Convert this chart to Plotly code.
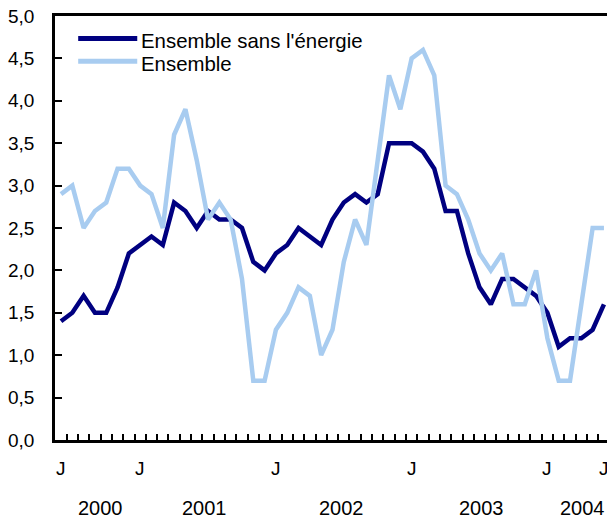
import plotly.graph_objects as go

# Monthly data, June 2000 to June 2004
month_index = list(range(49))

ensemble_sans_energie = [
    1.4, 1.5, 1.7, 1.5, 1.5, 1.8, 2.2,             # 2000 (Jun-Dec)
    2.3, 2.4, 2.3, 2.8, 2.7, 2.5, 2.7, 2.6, 2.6, 2.5, 2.1, 2.0,   # 2001
    2.2, 2.3, 2.5, 2.4, 2.3, 2.6, 2.8, 2.9, 2.8, 2.9, 3.5, 3.5,   # 2002
    3.5, 3.4, 3.2, 2.7, 2.7, 2.2, 1.8, 1.6, 1.9, 1.9, 1.8, 1.7,   # 2003
    1.5, 1.1, 1.2, 1.2, 1.3, 1.6,                   # 2004 (Jan-Jun)
]

ensemble = [
    2.9, 3.0, 2.5, 2.7, 2.8, 3.2, 3.2,
    3.0, 2.9, 2.5, 3.6, 3.9, 3.3, 2.6, 2.8, 2.6, 1.9, 0.7, 0.7,
    1.3, 1.5, 1.8, 1.7, 1.0, 1.3, 2.1, 2.6, 2.3, 3.3, 4.3, 3.9,
    4.5, 4.6, 4.3, 3.0, 2.9, 2.6, 2.2, 2.0, 2.2, 1.6, 1.6, 2.0,
    1.2, 0.7, 0.7, 1.6, 2.5, 2.5,
]

series_names = ["Ensemble sans l'énergie", "Ensemble"]
series_colors = ["#000080", "#A8CCF0"]

month_tick_index = [0, 7, 19, 31, 43, 48]
month_tick_text = ["J", "J", "J", "J", "J", "J"]

year_labels = ["2000", "2001", "2002", "2003", "2004"]
year_label_index = [3.5, 12.7, 24.8, 37.2, 46.1]

y_tick_values = [0, 0.5, 1, 1.5, 2, 2.5, 3, 3.5, 4, 4.5, 5]

FONT = "Liberation Sans, Arial, Helvetica, sans-serif"

fig = go.Figure()
for name, vals, col in zip(series_names, [ensemble_sans_energie, ensemble], series_colors):
    fig.add_trace(go.Scatter(
        x=month_index, y=vals, mode="lines", name=name,
        line=dict(color=col, width=4.5), showlegend=False,
    ))

# Month letters under the axis
for lbl, pos in zip(month_tick_text, month_tick_index):
    fig.add_annotation(
        x=pos, y=0, xref="x", yref="paper", yshift=-41,
        text=lbl, showarrow=False, font=dict(family=FONT, size=19, color="black"),
    )

# Year labels under the month letters
for lbl, pos in zip(year_labels, year_label_index):
    fig.add_annotation(
        x=pos, y=0, xref="x", yref="paper", yshift=-81,
        text=lbl, showarrow=False, font=dict(family=FONT, size=20, color="black"),
    )

# Custom legend (key lines + labels)
legend_rows_y = [0.947, 0.893]
for name, col, ly in zip(series_names, series_colors, legend_rows_y):
    fig.add_shape(type="line", xref="paper", yref="paper",
                  x0=0.042, x1=0.149, y0=ly, y1=ly,
                  line=dict(color=col, width=5))
    fig.add_annotation(x=0.153, y=ly - 0.006, xref="paper", yref="paper",
                       xanchor="left", yanchor="middle", showarrow=False,
                       text=name, font=dict(family=FONT, size=20.4, color="black"))

fig.update_layout(
    width=607, height=518,
    margin=dict(l=55, r=0, t=16, b=78),
    paper_bgcolor="white", plot_bgcolor="white",
    separators=",.",
    font=dict(family=FONT, size=19, color="black"),
    showlegend=False,
    xaxis=dict(
        range=[-0.53, 48.27], automargin=False,
        showgrid=False, zeroline=False,
        showline=True, linecolor="black", linewidth=3, mirror=True,
        showticklabels=False, ticks="",
        minor=dict(
            tickmode="array",
            tickvals=[i + 0.5 for i in month_index[:-1]],
            ticks="inside", ticklen=6, tickwidth=1.5, tickcolor="black",
        ),
    ),
    yaxis=dict(
        range=[0, 5], automargin=False,
        showgrid=False, zeroline=False,
        showline=True, linecolor="black", linewidth=2.5,
        tickmode="array", tickvals=y_tick_values, tickformat=".1f",
        ticks="inside", ticklen=7, tickwidth=1.5, tickcolor="black",
        ticklabelstandoff=14,
    ),
)

fig.write_html("out.html", config={"displayModeBar": False})

# Remove the browser's default page margin so the figure fills the window
with open("out.html", encoding="utf-8") as f:
    html = f.read()
html = html.replace("<head>", "<head><style>html,body{margin:0;padding:0;overflow:hidden;}</style>", 1)
with open("out.html", "w", encoding="utf-8") as f:
    f.write(html)
